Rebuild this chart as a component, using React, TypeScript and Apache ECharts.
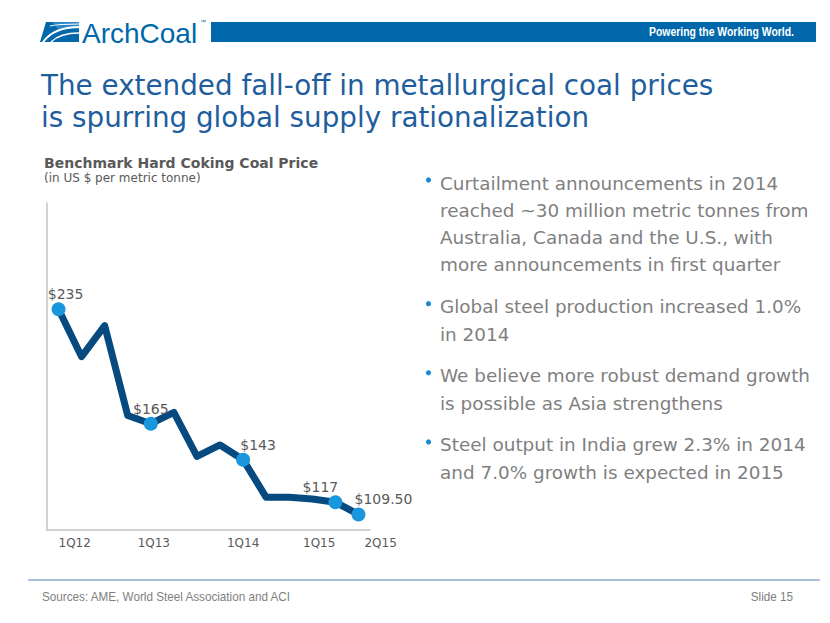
import React, { useEffect, useRef } from "react";
import * as echarts from "echarts";

// ---- data ----
const quarters = ["1Q12", "2Q12", "3Q12", "4Q12", "1Q13", "2Q13", "3Q13", "4Q13", "1Q14", "2Q14", "3Q14", "4Q14", "1Q15", "2Q15"];
const prices = [235, 206, 225, 170, 165, 172, 145, 152, 143, 120, 120, 119, 117, 109.5];
const priceLabels = ["$235", "", "", "", "$165", "", "", "", "$143", "", "", "", "$117", "$109.50"];
const shownTickLabels = ["1Q12", "1Q13", "1Q14", "1Q15", "2Q15"];

const titleLines = ["The extended fall-off in metallurgical coal prices", "is spurring global supply rationalization"];
const chartTitle = "Benchmark Hard Coking Coal Price";
const chartSubtitle = "(in US $ per metric tonne)";
const bullets = [
  ["Curtailment announcements in 2014", "reached ~30 million metric tonnes from", "Australia, Canada and the U.S., with", "more announcements in first quarter"],
  ["Global steel production increased 1.0%", "in 2014"],
  ["We believe more robust demand growth", "is possible as Asia strengthens"],
  ["Steel output in India grew 2.3% in 2014", "and 7.0% growth is expected in 2015"],
];
const sourcesText = "Sources: AME, World Steel Association and ACI";
const slideText = "Slide 15";
const tagline = "Powering the Working World.";
const brand = "ArchCoal";

// ---- styles ----
const FONT = "'DejaVu Sans', Verdana, sans-serif";
const SANS = "'Liberation Sans', Arial, sans-serif";
const DARK_GRAY = "#595959";
const TEXT_GRAY = "#7f7f7f";
const BRAND_BLUE = "#0067ab";
const LINE_BLUE = "#064a80";
const DOT_BLUE = "#1996dc";

const labelOffsets: Record<string, number[]> = {
  "$235": [7, 0],
  "$165": [0, 0],
  "$143": [15, 0],
  "$117": [-15, 0],
  "$109.50": [25, 0],
};
const tickAlign: Record<string, any> = {
  "1Q12": { align: "left" },
  "1Q13": { align: "center", padding: [0, 0, 0, 6] },
  "1Q14": { align: "center" },
  "1Q15": { align: "right", padding: [0, 0, 0, 0] },
  "2Q15": { align: "left", padding: [0, 0, 0, 6] },
};

function buildGraphics() {
  const g: any[] = [];
  // logo icon
  g.push({ type: "polygon", shape: { points: [[46, 22], [79, 22], [79, 42], [40, 42]] }, style: { fill: BRAND_BLUE } });
  g.push({ type: "polygon", shape: { points: [[52, 22], [79, 22], [79, 29], [58, 29]] }, style: { fill: "#2a86c8" } });
  g.push({ type: "bezierCurve", shape: { x1: 43, y1: 42, x2: 79, y2: 27, cpx1: 52, cpy1: 30, cpx2: 65, cpy2: 27 }, style: { stroke: "#fff", lineWidth: 2, fill: null } });
  g.push({ type: "bezierCurve", shape: { x1: 51, y1: 42, x2: 79, y2: 33, cpx1: 58, cpy1: 35, cpx2: 68, cpy2: 33 }, style: { stroke: "#fff", lineWidth: 1.5, fill: null } });
  g.push({ type: "bezierCurve", shape: { x1: 50, y1: 26, x2: 79, y2: 24, cpx1: 58, cpy1: 24, cpx2: 70, cpy2: 24 }, style: { stroke: "#fff", lineWidth: 1.2, fill: null } });
  g.push({ type: "text", x: 82, y: 33, style: { text: brand, fill: BRAND_BLUE, font: `normal 28px ${SANS}`, textVerticalAlign: "middle", textAlign: "left" } });
  g.push({ type: "text", x: 200, y: 19, style: { text: "™", fill: BRAND_BLUE, font: `normal 6px ${SANS}`, textVerticalAlign: "top" } });
  // header bar
  g.push({ type: "rect", shape: { x: 211, y: 22, width: 605, height: 20 }, style: { fill: BRAND_BLUE } });
  g.push({ type: "text", x: 794, y: 32, scaleX: 0.87, style: { text: tagline, fill: "#fff", font: `bold 12px ${SANS}`, textAlign: "right", textVerticalAlign: "middle" } });
  // title
  titleLines.forEach((t, i) => {
    g.push({ type: "text", x: 41, y: 85 + i * 32, style: { text: t, fill: "#1f5e9e", font: `normal 27.8px ${FONT}`, textVerticalAlign: "middle" } });
  });
  // chart titles
  g.push({ type: "text", x: 44, y: 163, style: { text: chartTitle, fill: DARK_GRAY, font: `bold 14px ${FONT}`, textVerticalAlign: "middle" } });
  g.push({ type: "text", x: 44, y: 178, style: { text: chartSubtitle, fill: DARK_GRAY, font: `normal 12px ${FONT}`, textVerticalAlign: "middle" } });
  // bullets
  let y = 183;
  bullets.forEach((para) => {
    g.push({ type: "circle", shape: { cx: 428.5, cy: y - 3, r: 2.6 }, style: { fill: "#1a8bd0" } });
    para.forEach((line) => {
      g.push({ type: "text", x: 440, y, style: { text: line, fill: TEXT_GRAY, font: `normal 18.4px ${FONT}`, textVerticalAlign: "middle" } });
      y += 27.3;
    });
    y += 14.5;
  });
  // footer
  g.push({ type: "line", shape: { x1: 28, y1: 580, x2: 820, y2: 580 }, style: { stroke: "#8eaad0", lineWidth: 1.5 } });
  g.push({ type: "text", x: 42, y: 597, scaleX: 0.9, style: { text: sourcesText, fill: "#808080", font: `normal 13px ${SANS}`, textVerticalAlign: "middle" } });
  g.push({ type: "text", x: 793, y: 597, scaleX: 0.9, style: { text: slideText, fill: "#808080", font: `normal 13px ${SANS}`, textVerticalAlign: "middle", textAlign: "right" } });
  return g;
}

export default function App() {
  const ref = useRef<HTMLDivElement>(null);
  useEffect(() => {
    if (!ref.current) return;
    const chart = echarts.init(ref.current, null, { renderer: "svg" });
    const option: any = {
      animation: false,
      backgroundColor: "#ffffff",
      grid: { left: 47, right: 460, top: 203, bottom: 93 },
      xAxis: {
        type: "category",
        boundaryGap: true,
        data: quarters.map((q) => ({ value: q, textStyle: tickAlign[q] || {} })),
        axisLine: { show: true, lineStyle: { color: "#c4c4c4", width: 1.5 } },
        axisTick: { show: false },
        axisLabel: {
          interval: (i: number) => shownTickLabels.includes(quarters[i]),
          color: DARK_GRAY,
          fontSize: 12,
          fontFamily: FONT,
          margin: 7,
          hideOverlap: false,
        },
        splitLine: { show: false },
      },
      yAxis: {
        type: "value",
        min: 100,
        max: 300,
        axisLine: { show: true, lineStyle: { color: "#c4c4c4", width: 1.5 } },
        axisTick: { show: false },
        axisLabel: { show: false },
        splitLine: { show: false },
      },
      series: [
        {
          type: "line",
          symbol: "circle",
          symbolSize: 14,
          showSymbol: true,
          lineStyle: { color: LINE_BLUE, width: 7, join: "round", cap: "round" },
          itemStyle: { color: DOT_BLUE },
          z: 3,
          data: prices.map((v, i) => {
            const lbl = priceLabels[i];
            if (!lbl) return { value: v, symbol: "none", label: { show: false } };
            return {
              value: v,
              label: {
                show: true,
                formatter: lbl,
                position: "top",
                distance: 1,
                offset: labelOffsets[lbl] || [0, 0],
                color: DARK_GRAY,
                fontSize: 14,
                fontFamily: FONT,
              },
            };
          }),
        },
      ],
      graphic: buildGraphics(),
    };
    chart.setOption(option);
    return () => chart.dispose();
  }, []);
  return <div ref={ref} style={{ position: "absolute", left: 0, top: 0, width: 830, height: 623 }} />;
}
